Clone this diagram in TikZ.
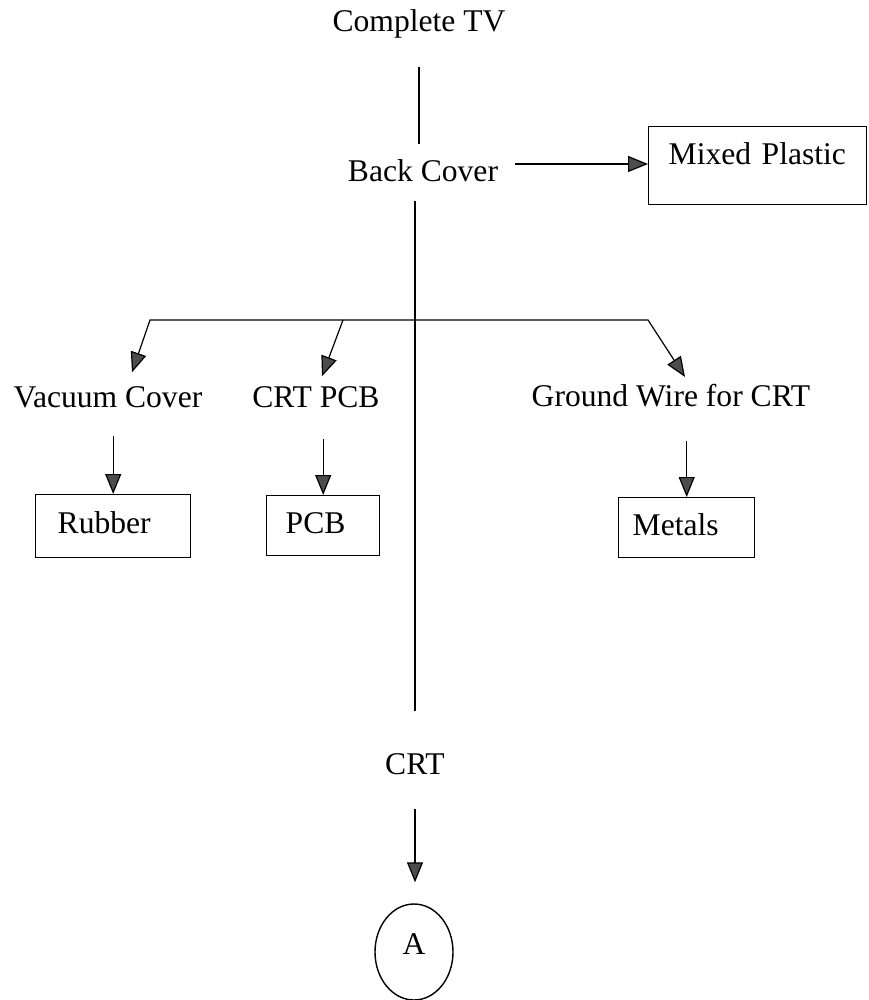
\documentclass[tikz,border=0pt]{standalone}
\usepackage{fontspec}
\setmainfont{Liberation Serif}
\usetikzlibrary{arrows.meta,shapes.geometric}
\begin{document}
\begin{tikzpicture}[x=0.5pt,y=-0.5pt,
  font=\fontsize{15.8}{19}\selectfont,
  lbl/.style={inner sep=0pt, anchor=base},
  conn/.style={line width=0.6pt},
  tip/.tip={Triangle[length=10pt,width=8pt,fill=black!70]},
  arr/.style={conn, -tip},
  boxnode/.style={draw, line width=0.7pt, anchor=north west, align=left,
    inner ysep=2pt, text height=10.5pt, text depth=3pt},
  endnode/.style={draw, ellipse, line width=0.7pt, inner sep=0pt,
    minimum width=39pt, minimum height=48pt, text height=10.8pt, text depth=8.8pt}]
\useasboundingbox (0,0) rectangle (868,1000);

% stages of the dismantling sequence
\node[lbl] (tv)     at (419,32)  {Complete TV};
\node[lbl] (back)   at (423,182) {Back Cover};
\node[lbl] (vac)    at (108,407) {Vacuum Cover};
\node[lbl] (crtpcb) at (316,407) {CRT PCB};
\node[lbl] (gnd)    at (671,406) {Ground Wire for CRT};
\node[lbl] (crt)    at (415,774) {CRT};

% recovered material fractions
\node[boxnode, inner xsep=10pt, text width=89pt, minimum height=39pt,
      text depth=11.5pt] (mix) at (648,126) {Mixed Plastic};
\node[boxnode, inner xsep=11pt, text width=55.5pt, minimum height=31.5pt]
      (rub) at (35,494) {Rubber};
\node[boxnode, inner xsep=9.5pt, text width=37.5pt, minimum height=30pt]
      (pcb) at (266,495) {PCB};
\node[boxnode, inner xsep=7pt, text width=54pt, minimum height=30pt]
      (met) at (618,497) {Metals};

% continuation marker
\node[endnode] (A) at (414,952) {A};

% main spine
\draw[conn, shorten <=14pt, shorten >=7.7pt] (tv.south) -- (tv.south |- back.north);
\draw[conn, shorten <=9pt, shorten >=21pt] (crt.north |- back.south) -- (crt.north);

% back cover to mixed plastic
\draw[arr, shorten <=8.5pt] ([yshift=3.6pt]back.east) -- ([yshift=3.6pt]back.east -| mix.west);

% distribution bar for the CRT-side parts
\coordinate (bl) at (150,320);
\coordinate (bm) at (343,320);
\coordinate (br) at (648,320);
\draw[conn, tip-tip]
  ([xshift=12pt,yshift=6.7pt]vac.north) -- (bl) -- (br) -- ([xshift=7pt,yshift=3.2pt]gnd.north);
\draw[arr] (bm) -- ([xshift=3pt,yshift=4.7pt]crtpcb.north);

% parts to materials
\draw[arr, shorten <=14pt] (rub.north |- vac.south) -- (rub.north);
\draw[arr, shorten <=15.5pt] (pcb.north |- crtpcb.south) -- (pcb.north);
\draw[arr, shorten <=17pt] (met.north |- gnd.south) -- (met.north);

% CRT to continuation
\draw[arr, shorten <=17pt, shorten >=10.5pt] (crt.south) -- (crt.south |- A.north);
\end{tikzpicture}
\end{document}
